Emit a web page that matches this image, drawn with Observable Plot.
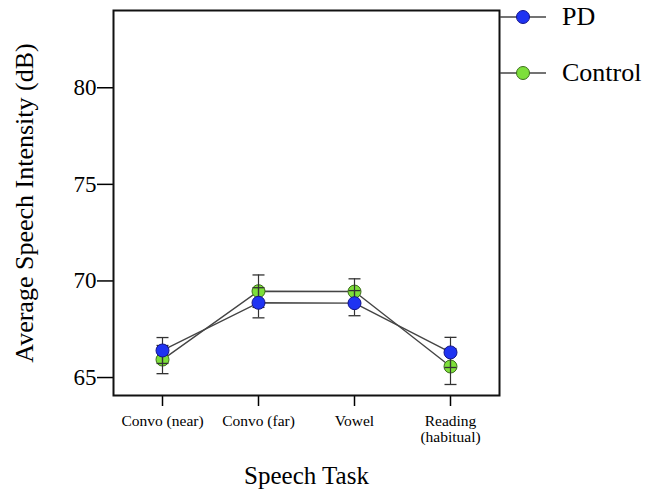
<!DOCTYPE html>
<html>
<head>
<meta charset="utf-8">
<script src="https://cdn.jsdelivr.net/npm/d3@7"></script>
<script src="https://cdn.jsdelivr.net/npm/@observablehq/plot@0.6"></script>
<style>
  body { margin: 0; background: #fff; }
  #wrap { position: relative; width: 649px; height: 492px; font-family: "Liberation Serif", "Times New Roman", serif; }
  #legend { position: absolute; left: 0; top: 0; }
  .item { position: absolute; display: flex; align-items: center; }
  .item span { font-size: 26px; color: #000; margin-left: 16px; }
</style>
</head>
<body>
<div id="wrap">
  <div id="chart"></div>
  <div id="legend"></div>
</div>
<script>
// Speech tasks (x categories)
const tasks = ["Convo (near)", "Convo (far)", "Vowel", "Reading\n(habitual)"];

// Mean intensity (dB) and error (± dB) per group
const pdMean = [66.40, 68.87, 68.85, 66.30];
const pdErr = [0.67, 0.78, 0.65, 0.78];
const controlMean = [65.93, 69.47, 69.45, 65.57];
const controlErr = [0.73, 0.84, 0.66, 0.93];

const yTicks = [65, 70, 75, 80];

const groups = [
  {name: "PD", fill: "#1f33f2", stroke: "#14148a", mean: pdMean, err: pdErr},
  {name: "Control", fill: "#7ddf3a", stroke: "#3d6e1c", mean: controlMean, err: controlErr}
];

const rows = groups.flatMap(g => tasks.map((t, i) => ({
  task: t, group: g.name, mean: g.mean[i], err: g.err[i],
  lo: g.mean[i] - g.err[i], hi: g.mean[i] + g.err[i]
})));
const pdRows = rows.filter(d => d.group === "PD");
const ctlRows = rows.filter(d => d.group === "Control");

// horizontal cap for error bars
const cap = {draw(ctx) { ctx.moveTo(-6, 0); ctx.lineTo(6, 0); }};

const font = "'Liberation Serif', 'Times New Roman', serif";

const errorBars = [
  Plot.ruleX(rows, {x: "task", y1: "lo", y2: "hi", stroke: "#333", strokeWidth: 1.2}),
  Plot.dot(rows, {x: "task", y: "lo", symbol: cap, stroke: "#333", strokeWidth: 1.3, fill: "none"}),
  Plot.dot(rows, {x: "task", y: "hi", symbol: cap, stroke: "#333", strokeWidth: 1.3, fill: "none"})
];

const chart = Plot.plot({
  width: 649,
  height: 492,
  marginLeft: 113,
  marginRight: 150,
  marginTop: 10,
  marginBottom: 97,
  style: {fontFamily: font, color: "#000", background: "#fff"},
  x: {type: "point", domain: tasks, padding: 0.5},
  y: {domain: [64.07, 84]},
  marks: [
    Plot.line(ctlRows, {x: "task", y: "mean", stroke: "#444", strokeWidth: 1.4}),
    Plot.line(pdRows, {x: "task", y: "mean", stroke: "#444", strokeWidth: 1.4}),
    Plot.dot(ctlRows, {x: "task", y: "mean", r: 6.5, fill: groups[1].fill, stroke: groups[1].stroke, strokeWidth: 1}),
    ...errorBars,
    Plot.dot(pdRows, {x: "task", y: "mean", r: 6.5, fill: groups[0].fill, stroke: groups[0].stroke, strokeWidth: 1}),
    Plot.axisY({ticks: yTicks, tickSize: 16, tickPadding: 1, fontSize: 23, label: null, strokeWidth: 1.5}),
    Plot.axisX({tickSize: 11, tickPadding: 8, fontSize: 15.5, label: null, strokeWidth: 1.5, lineHeight: 1.05}),
    Plot.text(["Average Speech Intensity (dB)"], {frameAnchor: "left", dx: -89, rotate: -90, fontSize: 26, textAnchor: "middle", lineAnchor: "middle"}),
    Plot.text(["Speech Task"], {frameAnchor: "bottom", dy: 80, fontSize: 25, textAnchor: "middle", lineAnchor: "middle"}),
    Plot.frame({stroke: "#111", strokeWidth: 2})
  ]
});
document.getElementById("chart").append(chart);

// Legend to the right of the frame
const legend = document.getElementById("legend");
const legendTop = [17, 73];
groups.forEach((g, i) => {
  const item = document.createElement("div");
  item.className = "item";
  item.style.left = "500px";
  item.style.top = (legendTop[i] - 11) + "px";
  item.style.height = "22px";
  item.innerHTML =
    `<svg width="46" height="22"><line x1="0" x2="46" y1="11" y2="11" stroke="#444" stroke-width="1.4"/>` +
    `<circle cx="23" cy="11" r="6.5" fill="${g.fill}" stroke="${g.stroke}" stroke-width="1"/></svg>` +
    `<span>${g.name}</span>`;
  legend.append(item);
});
</script>
</body>
</html>
